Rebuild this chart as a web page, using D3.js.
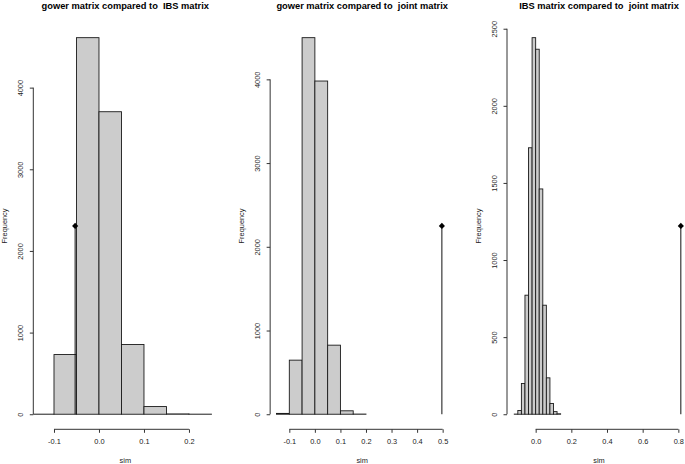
<!DOCTYPE html>
<html><head><meta charset="utf-8">
<script src="https://cdn.jsdelivr.net/npm/d3@7"></script>
<style>body{margin:0;background:#fff} svg{display:block}</style>
</head><body>
<script>
// ---- data ----
const titles = [
  "gower matrix compared to  IBS matrix",
  "gower matrix compared to  joint matrix",
  "IBS matrix compared to  joint matrix"
];
const breaks1 = [-0.15,-0.10,-0.05,0.00,0.05,0.10,0.15,0.20,0.25];
const counts1 = [1,731,4612,3705,854,94,4,1];
const breaks2 = [-0.15,-0.10,-0.05,0.00,0.05,0.10,0.15,0.20];
const counts2 = [10,646,4498,3980,825,41,2];
const breaks3 = [-0.12,-0.10,-0.08,-0.06,-0.04,-0.02,0.00,0.02,0.04,0.06,0.08,0.10,0.12,0.14];
const counts3 = [1,24,199,772,1728,2442,2367,1461,707,236,70,17,3];
const observed = [-0.053, 0.497, 0.814];
const xTicks1 = [-0.1,0.0,0.1,0.2];
const xTicks2 = [-0.1,0.0,0.1,0.2,0.3,0.4,0.5];
const xTicks3 = [0.0,0.2,0.4,0.6,0.8];
const yTicks1 = [0,1000,2000,3000,4000];
const yTicks2 = [0,1000,2000,3000,4000];
const yTicks3 = [0,500,1000,1500,2000,2500];
const xLimits = [[-0.146,0.263],[-0.175,0.545],[-0.1607,0.871]];
const xLabel = "sim", yLabel = "Frequency";

const panels = [
  {breaks:breaks1, counts:counts1, obs:observed[0], xt:xTicks1, yt:yTicks1, xl:xLimits[0], title:titles[0]},
  {breaks:breaks2, counts:counts2, obs:observed[1], xt:xTicks2, yt:yTicks2, xl:xLimits[1], title:titles[1]},
  {breaks:breaks3, counts:counts3, obs:observed[2], xt:xTicks3, yt:yTicks3, xl:xLimits[2], title:titles[2]}
];

// ---- layout ----
const W = 685, H = 464;
const plotTop = 22.6, plotBottom = 429.3, plotW = 184, panelStep = 236.85, firstLeft = 33.3;
const font = "'Liberation Sans', Arial, Helvetica, sans-serif";

const svg = d3.select("body").append("svg").attr("width", W).attr("height", H)
  .style("font-family", font);

panels.forEach((p, i) => {
  const left = firstLeft + i * panelStep;
  const x = d3.scaleLinear().domain(p.xl).range([left, left + plotW]);
  const ymax = d3.max(p.counts);
  const y = d3.scaleLinear().domain([-0.04 * ymax, 1.04 * ymax]).range([plotBottom, plotTop]);
  const g = svg.append("g");

  const cid = "clip" + i;
  svg.append("clipPath").attr("id", cid).append("rect")
    .attr("x", left).attr("y", plotTop).attr("width", plotW).attr("height", plotBottom - plotTop);

  const bins = p.counts.map((c, k) => ({x0: p.breaks[k], x1: p.breaks[k + 1], c}));
  const plot = g.append("g").attr("clip-path", `url(#${cid})`);
  plot.selectAll("rect.bar").data(bins).join("rect").attr("class", "bar")
    .attr("x", d => x(d.x0)).attr("width", d => x(d.x1) - x(d.x0))
    .attr("y", d => y(d.c)).attr("height", d => y(0) - y(d.c))
    .attr("fill", "#cccccc").attr("stroke", "#1a1a1a").attr("stroke-width", 0.9);

  // observed value
  plot.append("line").attr("x1", x(p.obs)).attr("x2", x(p.obs))
    .attr("y1", y(0)).attr("y2", y(ymax / 2)).attr("stroke", "#111").attr("stroke-width", 1);
  plot.append("path").attr("d", d3.symbol(d3.symbolSquare, 19)())
    .attr("transform", `translate(${x(p.obs)},${y(ymax / 2)}) rotate(45)`).attr("fill", "#000");

  // x axis
  const fmt = v => d3.format(".1f")(v).replace("\u2212", "-");
  const xa = g.append("g").attr("transform", `translate(0,${plotBottom})`)
    .call(d3.axisBottom(x).tickValues(p.xt).tickSize(3.5).tickPadding(5).tickFormat(fmt));
  xa.select(".domain").remove();
  xa.append("line").attr("x1", x(p.xt[0])).attr("x2", x(p.xt[p.xt.length - 1]))
    .attr("y1", 0).attr("y2", 0).attr("stroke", "#333");
  xa.selectAll(".tick line").attr("stroke", "#333");
  xa.selectAll("text").attr("font-size", 7.4).attr("fill", "#222").attr("font-family", font)
    .attr("dy", "0.71em").attr("y", 9.3);

  // y axis
  const ya = g.append("g").attr("transform", `translate(${left},0)`)
    .call(d3.axisLeft(y).tickValues(p.yt).tickSize(3.5).tickFormat(d3.format("d")));
  ya.select(".domain").remove();
  ya.append("line").attr("y1", y(p.yt[0])).attr("y2", y(p.yt[p.yt.length - 1]))
    .attr("x1", 0).attr("x2", 0).attr("stroke", "#333");
  ya.selectAll(".tick line").attr("stroke", "#333");
  ya.selectAll("text").attr("font-size", 7.4).attr("fill", "#222").attr("font-family", font)
    .attr("x", 0).attr("y", -10).attr("dy", 0).attr("text-anchor", "middle")
    .attr("transform", "rotate(-90)");

  const cx = left + plotW / 2;
  // title
  g.append("text").attr("x", cx).attr("y", 9).attr("text-anchor", "middle")
    .attr("font-size", 9.3).attr("font-weight", "bold").attr("fill", "#000")
    .style("white-space", "pre").attr("xml:space", "preserve").text(p.title);
  // axis titles
  g.append("text").attr("x", cx).attr("y", 462.5).attr("text-anchor", "middle")
    .attr("font-size", 7.4).attr("fill", "#222").text(xLabel);
  g.append("text").attr("transform", `translate(${left - 26.3},${(plotTop + plotBottom) / 2}) rotate(-90)`)
    .attr("text-anchor", "middle").attr("font-size", 7.4).attr("fill", "#222").text(yLabel);
});
</script>
</body></html>
